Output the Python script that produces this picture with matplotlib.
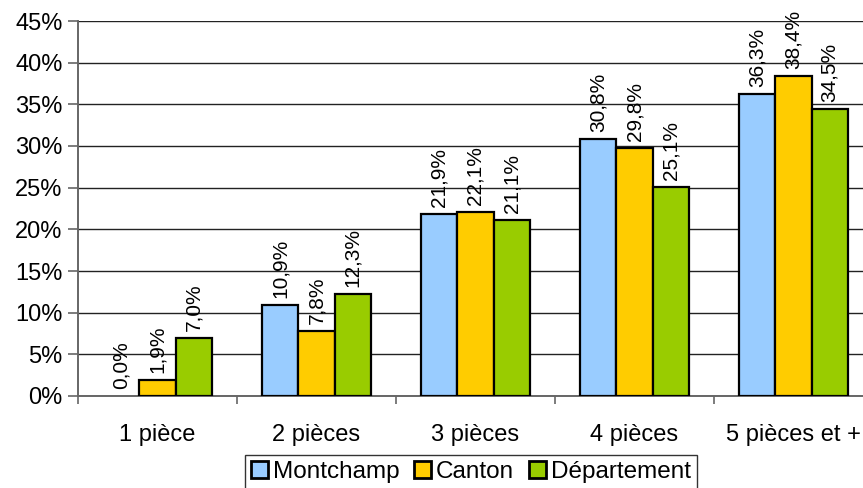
import matplotlib
matplotlib.use("Agg")
import matplotlib.pyplot as plt
from matplotlib.patches import Patch
import numpy as np

categories = ["1 pièce", "2 pièces", "3 pièces", "4 pièces", "5 pièces et +"]
series_names = ["Montchamp", "Canton", "Département"]
montchamp = [0.0, 10.9, 21.9, 30.8, 36.3]
canton = [1.9, 7.8, 22.1, 29.8, 38.4]
departement = [7.0, 12.3, 21.1, 25.1, 34.5]
y_ticks = [0, 5, 10, 15, 20, 25, 30, 35, 40, 45]

colors = ["#99CCFF", "#FFCC00", "#99CC00"]

plt.rcParams["font.family"] = ["Liberation Sans", "DejaVu Sans"]

fig = plt.figure(figsize=(8.63, 4.88), dpi=100)
ax = fig.add_axes([78 / 863, 1 - 396 / 488, (873 - 78) / 863, (396 - 21) / 488])

x = np.arange(len(categories))
width = 0.227
all_series = [montchamp, canton, departement]

for i, (vals, name, col) in enumerate(zip(all_series, series_names, colors)):
    pos = x + (i - 1) * width
    edge_w = [1.6 if v > 0 else 0 for v in vals]
    ax.bar(pos, vals, width, color=col, edgecolor="black", linewidth=edge_w,
           zorder=3)
    for xp, v in zip(pos, vals):
        ax.annotate(f"{v:.1f}%".replace(".", ","), (xp, v), xytext=(0, 5),
                    textcoords="offset points", rotation=90, ha="center",
                    va="bottom", fontsize=15, zorder=4)

ax.set_xlim(-0.5, len(categories) - 0.5)
ax.set_ylim(0, 45)
ax.set_yticks(y_ticks)
ax.set_yticklabels([f"{t}%" for t in y_ticks], fontsize=17)
ax.yaxis.grid(True, color="#222222", linewidth=1.0, zorder=0)
ax.set_axisbelow(True)

ax.set_xticks(x)
ax.set_xticklabels(categories, fontsize=17)
ax.set_xticks(np.arange(len(categories) + 1) - 0.5, minor=True)
ax.tick_params(axis="x", which="major", length=0, pad=20)
ax.tick_params(axis="x", which="minor", length=6, width=1.2, color="#666666")
ax.tick_params(axis="y", length=7, width=1.2, color="#666666", pad=4)

for side in ["top", "right"]:
    ax.spines[side].set_visible(False)
for side in ["left", "bottom"]:
    ax.spines[side].set_color("#666666")
    ax.spines[side].set_linewidth(1.4)

handles = [Patch(facecolor=c, edgecolor="black", linewidth=2.0, label=n)
           for c, n in zip(colors, series_names)]
leg = fig.legend(handles=handles, loc="upper center",
                 bbox_to_anchor=(471 / 863, 1 - 455 / 488),
                 ncol=3, fontsize=17.5, frameon=True, fancybox=False,
                 handlelength=0.7, handleheight=0.7, handletextpad=0.2,
                 columnspacing=0.6, borderpad=0.25, borderaxespad=0)
leg.get_frame().set_edgecolor("black")
leg.get_frame().set_linewidth(1.0)

fig.savefig("out.png", dpi=100)
